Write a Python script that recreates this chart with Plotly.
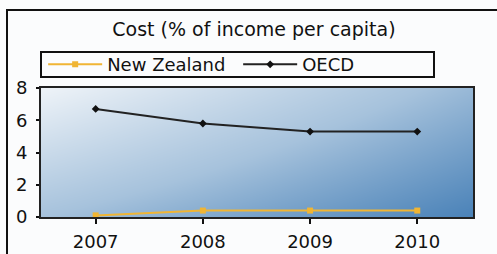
import plotly.graph_objects as go

years = [2007, 2008, 2009, 2010]
new_zealand = [0.1, 0.4, 0.4, 0.4]
oecd = [6.7, 5.8, 5.3, 5.3]
y_ticks = [0, 2, 4, 6, 8]
title_text = "Cost (% of income per capita)"

FONT = "DejaVu Sans"
X_RANGE = [2006.49, 2010.52]
Y_RANGE = [0, 8]

fig = go.Figure()

# gradient plot background (bilinear heatmap spanning the axis ranges)
fig.add_trace(go.Heatmap(
    z=[[0.55, 1.0], [0.0, 0.62]], x=X_RANGE, y=[Y_RANGE[0], Y_RANGE[1]],
    zsmooth="best", showscale=False, hoverinfo="skip",
    colorscale=[[0, "#eef3f8"], [0.55, "#a6c2dc"], [1, "#4a82b8"]],
    showlegend=False,
))

fig.add_trace(go.Scatter(
    x=years, y=new_zealand, name="New Zealand", mode="lines+markers",
    line=dict(color="#f0b534", width=2),
    marker=dict(symbol="square", size=6, color="#f0b534"),
))
fig.add_trace(go.Scatter(
    x=years, y=oecd, name="OECD", mode="lines+markers",
    line=dict(color="#222222", width=2),
    marker=dict(symbol="diamond", size=6, color="#111111"),
))

fig.update_layout(
    width=497, height=254,
    margin=dict(l=41, r=24, t=88, b=37, autoexpand=False),
    paper_bgcolor="#fbfcfd",
    plot_bgcolor="rgba(0,0,0,0)",
    font=dict(family=FONT, size=18, color="#111111"),
    title=dict(text=title_text, x=0.511, xanchor="center", y=0.885, yanchor="middle",
               font=dict(family=FONT, size=19, color="#111111")),
    showlegend=True,
    legend=dict(orientation="h", x=0.005, xanchor="left", y=1.038, yanchor="bottom",
                borderwidth=0, bgcolor="rgba(0,0,0,0)",
                font=dict(family=FONT, size=18, color="#111111"),
                itemwidth=54, entrywidth=126, entrywidthmode="pixels", tracegroupgap=0),
    xaxis=dict(
        range=X_RANGE, tickvals=years, ticktext=[str(y) for y in years],
        showgrid=False, zeroline=False, showline=True, linecolor="#222222", linewidth=2,
        mirror=True, ticks="outside", ticklen=5, tickcolor="#111111", tickwidth=2,
        ticklabelstandoff=2,
        tickfont=dict(family=FONT, size=18, color="#111111"), automargin=False,
    ),
    yaxis=dict(
        range=Y_RANGE, tickvals=y_ticks,
        showgrid=False, zeroline=False, showline=True, linecolor="#222222", linewidth=2,
        mirror=True, ticks="outside", ticklen=3, tickcolor="#111111", tickwidth=2,
        ticklabelstandoff=5,
        tickfont=dict(family=FONT, size=18, color="#111111"), automargin=False,
    ),
)

# outer frame
fig.add_shape(type="rect", xref="paper", yref="paper",
              x0=(7 - 41) / 432, x1=1.3, y0=-0.6, y1=(217 - 10) / 129,
              line=dict(color="#111111", width=2), layer="below")
# legend frame
fig.add_shape(type="rect", xref="paper", yref="paper",
              x0=0.0, x1=(434 - 41) / 432, y0=(217 - 77) / 129, y1=(217 - 52) / 129,
              line=dict(color="#111111", width=2), fillcolor="#fbfcfd", layer="below")

fig.write_html("out.html", config={"displayModeBar": False},
               post_script="document.body.style.margin='0';")
